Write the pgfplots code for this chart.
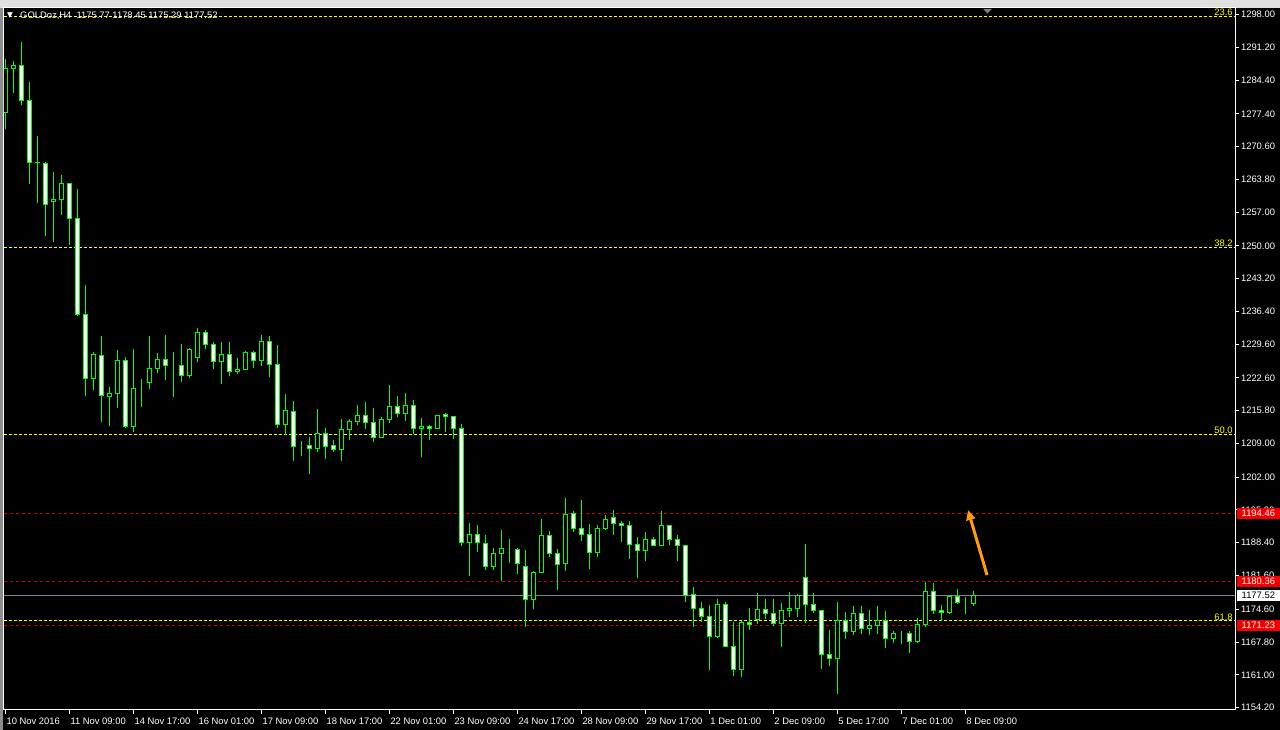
\documentclass[border=0pt]{standalone}
\usepackage{pgfplots}
\pgfplotsset{compat=1.18}
\usepackage{pgfplotstable}
\usetikzlibrary{arrows.meta}
\usepackage{fontspec}
\setmainfont{Liberation Sans}
\newfontfamily\symfont{DejaVu Sans}

\definecolor{cgreen}{HTML}{00FF00}
\definecolor{fibyel}{HTML}{FFFF00}
\definecolor{lvlred}{HTML}{D00000}
\definecolor{bidgray}{HTML}{778899}
\definecolor{boxred}{HTML}{F00000}
\definecolor{arroworange}{HTML}{FF9A1A}

\pgfplotstableread{
x o h l c
0 1277.7 1288.7 1274.2 1286.8
1 1286.8 1288.3 1281.8 1287.5
2 1287.5 1292.2 1279.3 1280.2
3 1280.2 1283.9 1262.9 1267.3
4 1267.3 1272.7 1258.8 1267.2
5 1267.1 1267.5 1252.1 1258.6
6 1259.2 1265.3 1250.9 1259.7
7 1259.6 1264.7 1256.4 1263.0
8 1263.0 1263.1 1250.2 1255.6
9 1255.7 1261.8 1235.5 1235.8
10 1235.8 1241.9 1218.9 1222.5
11 1222.5 1227.9 1220.0 1227.5
12 1227.3 1231.3 1213.5 1219.0
13 1218.8 1220.7 1212.7 1219.4
14 1219.4 1228.4 1216.4 1226.3
15 1226.3 1227.0 1212.3 1212.5
16 1212.5 1228.6 1211.4 1220.5
17 1220.7 1222.4 1216.6 1220.7
18 1221.7 1231.3 1220.2 1224.6
19 1224.5 1227.7 1223.6 1226.5
20 1226.5 1231.5 1222.2 1225.2
21 1225.2 1227.9 1218.7 1225.2
22 1225.2 1229.6 1221.8 1223.2
23 1223.2 1228.8 1222.6 1228.5
24 1226.9 1233.0 1226.0 1232.1
25 1232.1 1232.5 1228.5 1229.6
26 1229.6 1230.0 1224.5 1226.1
27 1226.1 1230.0 1221.4 1227.5
28 1227.5 1230.0 1222.9 1224.0
29 1224.0 1226.7 1223.5 1224.4
30 1224.4 1228.1 1224.4 1227.9
31 1227.9 1228.1 1224.7 1226.3
32 1226.3 1231.5 1225.1 1230.2
33 1230.2 1231.3 1222.7 1225.4
34 1225.4 1229.4 1212.3 1213.0
35 1213.0 1219.3 1210.8 1215.9
36 1215.7 1217.8 1205.4 1208.4
37 1208.4 1209.5 1206.5 1208.4
38 1208.6 1210.4 1202.7 1208.0
39 1208.0 1216.2 1207.3 1211.1
40 1211.1 1212.2 1205.8 1208.4
41 1208.5 1209.7 1207.3 1207.7
42 1207.7 1214.1 1205.4 1211.9
43 1211.9 1214.1 1209.8 1213.6
44 1213.6 1217.0 1212.8 1214.9
45 1214.9 1217.6 1212.0 1213.4
46 1213.4 1216.4 1209.4 1210.3
47 1210.3 1214.4 1210.1 1214.0
48 1214.0 1221.1 1213.2 1216.7
49 1216.7 1218.9 1214.4 1215.3
50 1215.3 1219.5 1213.6 1216.9
51 1216.9 1218.0 1210.9 1212.2
52 1212.2 1214.3 1206.1 1212.6
53 1212.6 1212.8 1209.8 1212.2
54 1212.2 1214.9 1212.1 1214.9
55 1215.1 1215.3 1211.3 1214.5
56 1214.5 1214.7 1210.0 1212.2
57 1212.2 1213.0 1187.8 1188.4
58 1188.4 1192.4 1181.5 1190.2
59 1190.2 1192.0 1186.5 1188.4
60 1188.3 1190.0 1182.7 1183.4
61 1183.4 1187.3 1182.7 1186.2
62 1186.2 1191.0 1180.4 1187.3
63 1187.2 1189.1 1184.1 1187.2
64 1187.1 1187.3 1182.0 1184.1
65 1183.4 1186.8 1170.9 1176.7
66 1176.7 1182.5 1174.6 1182.3
67 1182.3 1193.3 1182.1 1190.0
68 1190.0 1190.8 1185.4 1186.2
69 1186.2 1187.1 1178.6 1183.9
70 1184.0 1197.7 1182.6 1194.3
71 1194.5 1194.9 1190.6 1191.4
72 1191.4 1197.3 1188.8 1190.2
73 1190.2 1192.2 1183.0 1186.4
74 1186.4 1192.0 1185.5 1191.4
75 1191.4 1194.1 1191.1 1193.3
76 1193.7 1195.1 1190.1 1192.4
77 1192.4 1193.0 1188.6 1192.0
78 1192.0 1192.9 1185.1 1188.1
79 1188.1 1189.5 1181.0 1186.8
80 1186.8 1190.6 1184.7 1189.1
81 1189.1 1189.5 1187.7 1187.9
82 1187.9 1195.0 1187.9 1191.9
83 1191.9 1192.1 1187.9 1189.1
84 1189.1 1190.1 1184.7 1187.9
85 1187.9 1187.9 1176.2 1177.5
86 1177.7 1179.2 1170.9 1174.8
87 1174.7 1176.1 1171.9 1173.2
88 1173.2 1175.4 1162.1 1169.0
89 1169.0 1176.7 1168.7 1175.6
90 1175.6 1176.1 1166.7 1166.9
91 1166.9 1171.9 1160.8 1162.1
92 1162.1 1172.1 1160.6 1171.9
93 1171.9 1174.9 1170.2 1171.5
94 1172.5 1178.0 1171.5 1174.6
95 1174.6 1176.7 1172.5 1173.8
96 1173.8 1176.7 1171.1 1171.7
97 1171.7 1175.9 1166.8 1174.4
98 1174.4 1178.1 1173.0 1174.8
99 1174.8 1177.7 1173.0 1177.5
100 1181.2 1188.1 1171.8 1175.6
101 1175.6 1177.9 1173.8 1174.4
102 1174.4 1174.4 1162.3 1165.2
103 1165.3 1170.2 1162.8 1164.4
104 1164.4 1176.1 1157.1 1172.3
105 1172.3 1174.0 1168.5 1170.0
106 1170.0 1175.2 1169.3 1173.8
107 1173.8 1175.2 1169.5 1170.6
108 1170.6 1174.4 1169.3 1171.2
109 1171.2 1175.2 1169.5 1172.3
110 1172.3 1174.3 1166.6 1168.5
111 1168.5 1170.0 1167.5 1169.6
112 1169.5 1170.0 1167.3 1169.5
113 1169.6 1170.0 1165.6 1167.9
114 1167.9 1172.7 1167.6 1171.5
115 1171.5 1180.3 1171.0 1178.3
116 1178.3 1180.1 1173.6 1174.4
117 1174.4 1175.4 1172.2 1174.0
118 1174.0 1177.5 1173.6 1177.3
119 1177.3 1178.8 1175.6 1176.0
120 1176.0 1177.1 1173.7 1176.0
121 1175.77 1178.45 1175.29 1177.52
}\candles

\pgfplotsset{candleaxis/.style={
  at={(4pt,20pt)}, anchor=south west,
  scale only axis, width=1231pt, height=702pt,
  xmin=-0.19, xmax=153.7, ymin=1153.7, ymax=1299.35,
  enlargelimits=false,
}}

\begin{document}
\begin{tikzpicture}[x=1pt,y=1pt]
\fill[black] (0,0) rectangle (1280,730);
\fill[black!12] (0,722) rectangle (1280,730);
\fill[black!45] (0,0) rectangle (3,722);
\path[use as bounding box] (0,0) rectangle (1280,730);

% axis with levels and wicks
\begin{axis}[candleaxis,
  axis line style={white, line width=1pt},
  tick style={white, line width=1pt},
  tick align=outside, major tick length=4pt,
  xtick pos=bottom, ytick pos=right, yticklabel pos=right,
  xtick={0,8,...,120},
  xticklabels={10 Nov 2016, 11 Nov 09:00, 14 Nov 17:00, 16 Nov 01:00, 17 Nov 09:00, 18 Nov 17:00, 22 Nov 01:00, 23 Nov 09:00, 24 Nov 17:00, 28 Nov 09:00, 29 Nov 17:00, 1 Dec 01:00, 2 Dec 09:00, 5 Dec 17:00, 7 Dec 01:00, 8 Dec 09:00},
  ytick={1154.2,1161.0,1167.8,1174.6,1181.6,1188.4,1195.2,1202.0,1209.0,1215.8,1222.6,1229.6,1236.4,1243.2,1250.0,1257.0,1263.8,1270.6,1277.4,1284.4,1291.2,1298.0},
  yticklabels={1154.20,1161.00,1167.80,1174.60,1181.60,1188.40,1195.20,1202.00,1209.00,1215.80,1222.60,1229.60,1236.40,1243.20,1250.00,1257.00,1263.80,1270.60,1277.40,1284.40,1291.20,1298.00},
  ticklabel style={font=\fontsize{9.4}{10}\selectfont, text=white},
  xticklabel style={anchor=north west, xshift=-2.5pt},
  yticklabel style={anchor=west, xshift=-1.5pt},
]
% Fibonacci levels
\addplot[fibyel, line width=1pt, dash pattern=on 3pt off 2pt] coordinates {(-0.19,1297.6) (153.7,1297.6)};
\addplot[fibyel, line width=1pt, dash pattern=on 3pt off 2pt] coordinates {(-0.19,1249.7) (153.7,1249.7)};
\addplot[fibyel, line width=1pt, dash pattern=on 3pt off 2pt] coordinates {(-0.19,1210.9) (153.7,1210.9)};
\addplot[fibyel, line width=1pt, dash pattern=on 3pt off 2pt] coordinates {(-0.19,1172.2) (153.7,1172.2)};
% red levels
\addplot[lvlred, line width=1pt, dash pattern=on 3pt off 3pt] coordinates {(-0.19,1194.46) (153.7,1194.46)};
\addplot[lvlred, line width=1pt, dash pattern=on 3pt off 3pt] coordinates {(-0.19,1180.36) (153.7,1180.36)};
\addplot[lvlred, line width=1pt, dash pattern=on 3pt off 3pt] coordinates {(-0.19,1171.23) (153.7,1171.23)};
% bid line
\addplot[bidgray, line width=1pt] coordinates {(-0.19,1177.52) (153.7,1177.52)};
% wicks
\addplot[draw=none, mark=none,
  error bars/.cd, y dir=plus, y explicit, error mark=none,
  error bar style={draw=cgreen, line width=1pt, solid}]
  table[x=x, y=l, y error expr=\thisrow{h}-\thisrow{l}] {\candles};
% fib labels
\node[anchor=south east, inner sep=0.5pt, text=fibyel, font=\fontsize{9.4}{10}\selectfont] at (axis cs:153.5,1297.6) {23.6};
\node[anchor=south east, inner sep=0.5pt, text=fibyel, font=\fontsize{9.4}{10}\selectfont] at (axis cs:153.5,1249.7) {38.2};
\node[anchor=south east, inner sep=0.5pt, text=fibyel, font=\fontsize{9.4}{10}\selectfont] at (axis cs:153.5,1210.9) {50.0};
\node[anchor=south east, inner sep=0.5pt, text=fibyel, font=\fontsize{9.4}{10}\selectfont] at (axis cs:153.5,1172.2) {61.8};
\end{axis}

% axis with candle bodies
\begin{axis}[candleaxis, hide axis, ybar stacked, bar width=4pt,
  clip mode=individual]
\addplot[draw=none, fill=none] table[x=x, y expr={min(\thisrow{o},\thisrow{c})}] {\candles};
\addplot[draw=cgreen, fill=black, line width=1pt] table[x=x, y expr={max(\thisrow{c}-\thisrow{o},0)}] {\candles};
\addplot[draw=cgreen, fill=white, line width=1pt] table[x=x, y expr={max(\thisrow{o}-\thisrow{c},0)}] {\candles};
% price labels on the scale
\node[anchor=west, xshift=1.5pt, fill=boxred, text=white, inner xsep=5pt, inner ysep=1.2pt, minimum height=11pt, font=\fontsize{9.4}{10}\selectfont] at (axis cs:153.7,1194.46) {1194.46};
\node[anchor=west, xshift=1.5pt, fill=boxred, text=white, inner xsep=5pt, inner ysep=1.2pt, minimum height=11pt, font=\fontsize{9.4}{10}\selectfont] at (axis cs:153.7,1180.36) {1180.36};
\node[anchor=west, xshift=1.5pt, fill=white, text=black, inner xsep=5pt, inner ysep=1.2pt, minimum height=11pt, font=\fontsize{9.4}{10}\selectfont] at (axis cs:153.7,1177.52) {1177.52};
\node[anchor=west, xshift=1.5pt, fill=boxred, text=white, inner xsep=5pt, inner ysep=1.2pt, minimum height=11pt, font=\fontsize{9.4}{10}\selectfont] at (axis cs:153.7,1171.23) {1171.23};
\end{axis}

% title
\node[anchor=west, inner sep=0pt, text=white, font=\symfont\fontsize{7.5}{8}\selectfont] at (7,714) {▼};
\node[anchor=west, inner sep=0pt, text=white, font=\fontsize{9.4}{10}\selectfont] at (20,714) {GOLDoz,H4\ \ 1175.77 1178.45 1175.29 1177.52};
% chart shift marker
\fill[black!50] (983,721) -- (992,721) -- (987.5,716.5) -- cycle;
% orange arrow
\draw[arroworange, line width=3pt, -{Triangle[length=10pt,width=9pt]}] (987,155) -- (968,220);
\end{tikzpicture}
\end{document}
